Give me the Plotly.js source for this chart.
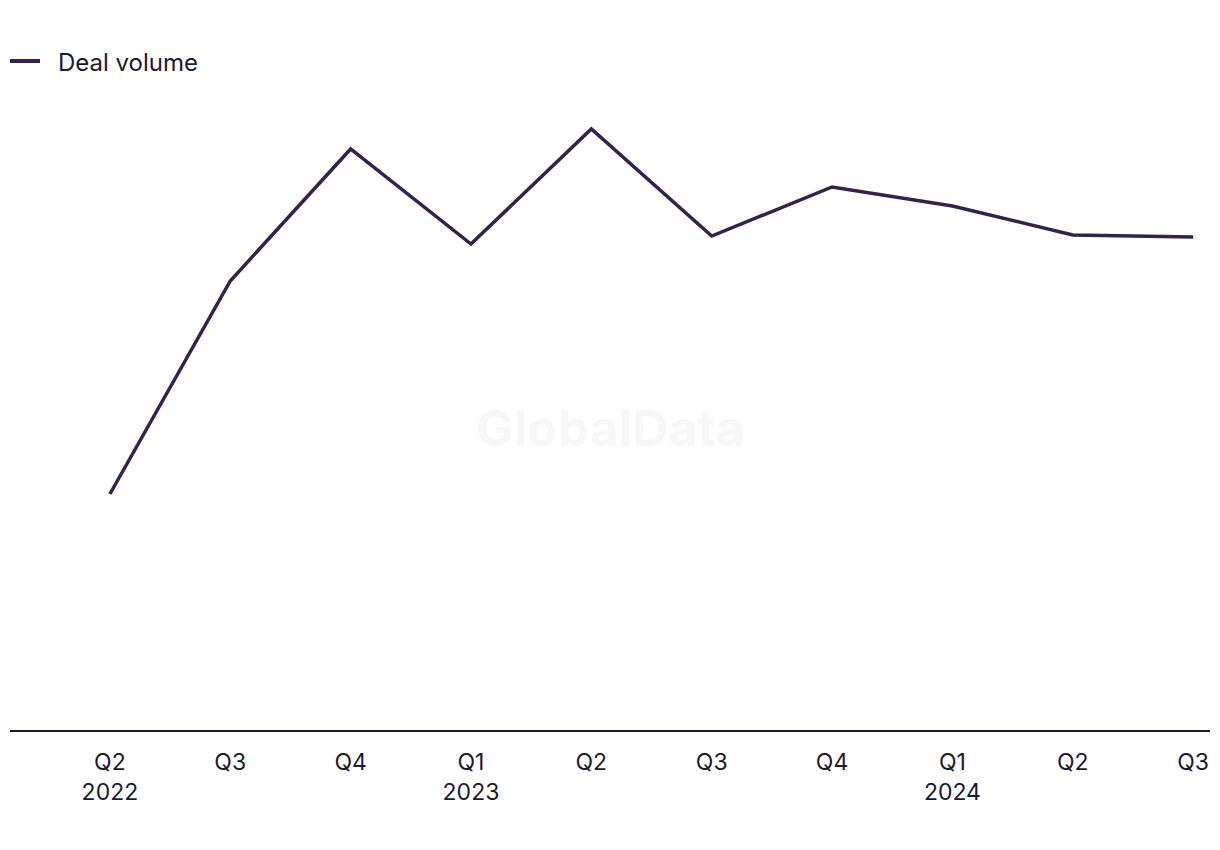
<!DOCTYPE html>
<html>
<head>
<meta charset="utf-8">
<script src="https://cdn.plot.ly/plotly-3.0.1.min.js"></script>
<style>html,body{margin:0;padding:0;background:#fff;}#chart{width:1220px;height:850px;}</style>
</head>
<body>
<div id="chart"></div>
<script>
const quarters = ["Q2<br>2022","Q3","Q4","Q1<br>2023","Q2","Q3","Q4","Q1<br>2024","Q2","Q3"];
const dealVolume = [236, 449, 581, 486, 601, 494, 543, 524, 495, 493];
const seriesName = "Deal volume";
const lineColor = "#33214f";

const idx = quarters.map((_, i) => i);
const trace = {
  x: idx,
  y: dealVolume,
  type: "scatter",
  mode: "lines",
  name: seriesName,
  line: {color: lineColor, width: 3.5},
  hoverinfo: "skip",
  showlegend: false
};
const layout = {
  width: 1220, height: 850,
  margin: {l: 10, r: 10, t: 90, b: 120},
  paper_bgcolor: "#fff", plot_bgcolor: "#fff",
  font: {family: "Inter, 'Noto Sans', sans-serif", size: 23, color: "#1c1a2e"},
  showlegend: false,
  xaxis: {range: [-0.83, 9.14], tickvals: idx, ticktext: quarters, showgrid: false,
          zeroline: false, showline: true, linecolor: "#1c1a2e", linewidth: 2,
          ticks: "", ticklabelstandoff: 10, fixedrange: true},
  yaxis: {range: [0, 640], showgrid: false, zeroline: false, showticklabels: false,
          showline: false, ticks: "", fixedrange: true},
  shapes: [{type: "line", xref: "paper", yref: "paper", x0: 0, x1: 30/1200,
            y0: 1 + 29/640, y1: 1 + 29/640, line: {color: lineColor, width: 4}}],
  annotations: [
    {text: seriesName, xref: "paper", yref: "paper", x: 46/1200, xanchor: "left",
     y: 1 + 28/640, yanchor: "middle", showarrow: false,
     font: {size: 24, color: "#1c1a2e"}},
    {text: "GlobalData", xref: "paper", yref: "paper", x: 0.5, y: 0.472,
     showarrow: false, font: {size: 50, color: "#f7f7f7", family: "Inter, sans-serif", weight: 700}}]
};
Plotly.newPlot("chart", [trace], layout, {displayModeBar: false, staticPlot: true});
</script>
</body>
</html>
